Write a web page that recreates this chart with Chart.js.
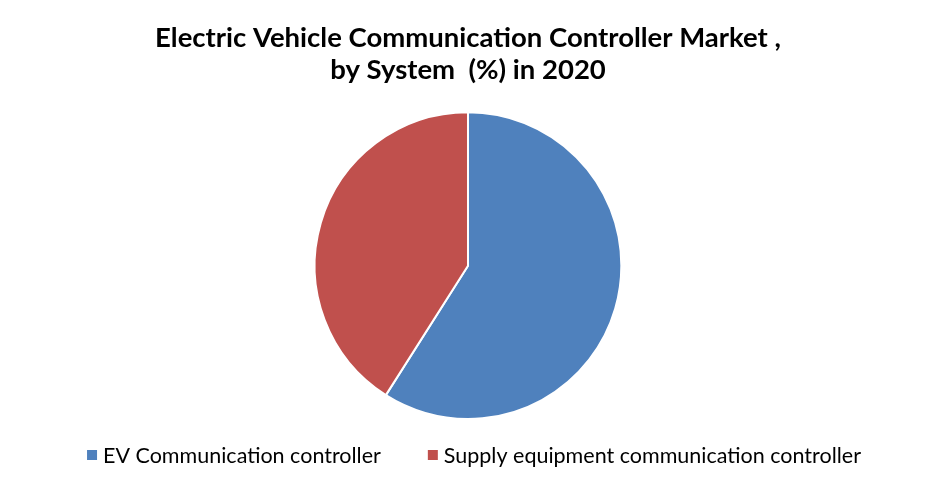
<!DOCTYPE html>
<html>
<head>
<meta charset="utf-8">
<script src="https://cdn.jsdelivr.net/npm/chart.js@4"></script>
<style>
  body { margin: 0; background: #fff; }
  #wrap { width: 936px; height: 496px; }
</style>
</head>
<body>
<div id="wrap"><canvas id="chartCanvas" width="936" height="496"></canvas></div>
<script>
const categories = ["EV Communication controller", "Supply equipment communication controller"];
const shares = [59, 41];
const colors = ["#4F81BD", "#C0504D"];
const titleLines = ["Electric Vehicle Communication Controller Market ,", "by System  (%) in 2020"];

// legend drawn by hand so the item spacing matches the original
const bottomLegend = {
  id: "bottomLegend",
  afterDraw(chart) {
    const c = chart.ctx;
    const labels = chart.data.labels;
    const bg = chart.data.datasets[0].backgroundColor;
    c.save();
    c.font = "21.5px Lato";
    c.textBaseline = "middle";
    const box = 10, gap = 6, itemGap = 47, y = 455;
    const widths = labels.map((l) => c.measureText(l).width);
    let total = widths.reduce((a, w) => a + box + gap + w, 0) + itemGap * (labels.length - 1);
    let x = 474 - total / 2;
    labels.forEach((l, i) => {
      c.fillStyle = bg[i];
      c.fillRect(x, y - box / 2, box, box);
      c.fillStyle = "#000";
      c.fillText(l, x + box + gap, y + 1);
      x += box + gap + widths[i] + itemGap;
    });
    c.restore();
  },
};

const ctx = document.getElementById("chartCanvas").getContext("2d");

new Chart(ctx, {
  type: "pie",
  data: {
    labels: categories,
    datasets: [
      {
        data: shares,
        backgroundColor: colors,
        borderColor: "#ffffff",
        borderWidth: 2,
      },
    ],
  },
  options: {
    responsive: false,
    animation: false,
    layout: { padding: { top: 0, bottom: 76 } },
    plugins: {
      title: {
        display: true,
        text: titleLines,
        color: "#000",
        font: { family: "Lato", size: 27.5, weight: "bold", lineHeight: 1.17 },
        padding: { top: 22, bottom: 25 },
      },
      legend: { display: false },
      tooltip: { enabled: false },
    },
  },
  plugins: [bottomLegend],
});
</script>
</body>
</html>
